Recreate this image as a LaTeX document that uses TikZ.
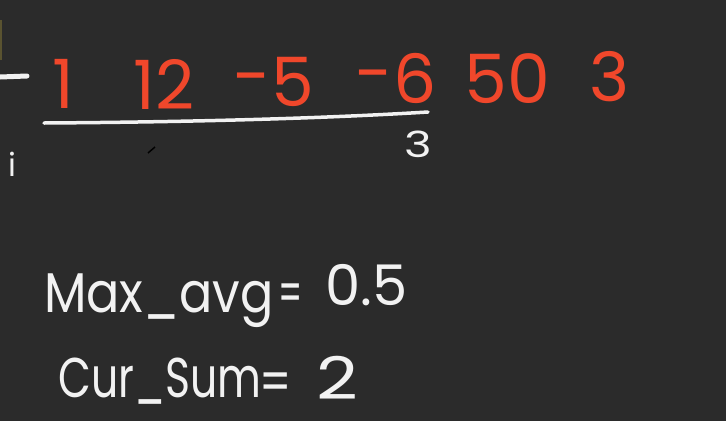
\documentclass[tikz,border=0pt]{standalone}
\usepackage{fontspec}
\setmainfont{Poppins}
\definecolor{bg}{HTML}{2B2B2B}
\definecolor{ink}{HTML}{F0472B}
\definecolor{chalk}{HTML}{F2F2F2}
\definecolor{olive}{HTML}{5A5330}
\newcommand{\mns}{\raisebox{6pt}{-}}
\begin{document}
\begin{tikzpicture}[x=1pt,y=-1pt,
  num/.style={text=ink,font=\fontsize{68}{68}\selectfont,anchor=base,inner sep=0pt},
  label/.style={text=chalk,font=\fontsize{56}{56}\selectfont,anchor=base west,inner sep=0pt},
  eqs/.style={text=chalk,font=\fontsize{56}{56}\selectfont,anchor=base,inner sep=0pt},
  small/.style={text=chalk,font=\fontsize{36}{36}\selectfont,anchor=base,inner sep=0pt},
  stroke/.style={draw=chalk,line width=3.5pt,line cap=round}]
\fill[bg] (0,0) rectangle (726,421);
\useasboundingbox (0,0) rectangle (726,421);
% array values
\node[num] (n1) at (63,108) {1};
\node[num] (n2) at (164,109) {12};
\node[num] (n3) at (274,106) {\mns5};
\node[num] (n4) at (396,103) {\mns6};
\node[num] (n5) at (507,103) {50};
\node[num] (n6) at (610,101) {3};
% window underline
\coordinate (u0) at (44,123);
\coordinate (u1) at (428,112);
\draw[stroke] (u0) .. controls (200,122) and (330,118) .. (u1);
\node[small] (k) at (418,157) {\scalebox{1.3}[1]{3}};
% left margin marks
\coordinate (d0) at (0,77);
\coordinate (d1) at (27,76);
\draw[draw=chalk,line width=5pt,line cap=round] (d0) -- (d1);
\coordinate (o0) at (1,20);
\coordinate (o1) at (1,60);
\draw[olive,line width=2pt] (o0) -- (o1);
\node[text=chalk,font=\fontsize{32}{32}\selectfont,anchor=base,inner sep=0pt] (i) at (12,176) {i};
% pen cursor
\coordinate (p0) at (148,153);
\coordinate (p1) at (155,147);
\draw[black,line width=1.5pt] (p0) -- (p1);
% variables
\node[label] (ma) at (44,312) {\scalebox{0.88}[1]{Max\_avg}};
\node[eqs] (ma2) at (291,312) {\scalebox{0.6}[1]{=}};
\node[label] (ma3) at (325,305) {0.5};
\node[label] (cs) at (58,397) {\scalebox{0.76}[1]{Cur\_Sum}};
\node[eqs] (cs2) at (276,401) {\scalebox{0.8}[1]{=}};
\node[label] (cs3) at (316,399) {\scalebox{1.3}[1.05]{2}};
\end{tikzpicture}
\end{document}
